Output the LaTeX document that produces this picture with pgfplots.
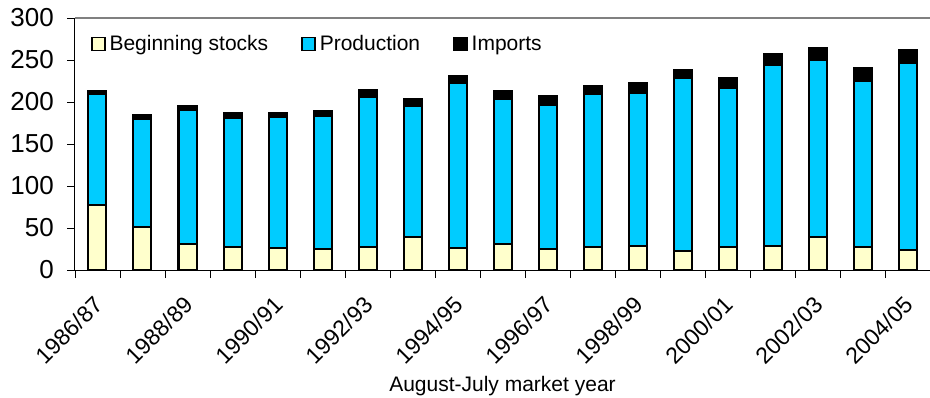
\documentclass[border=0pt]{standalone}
\usepackage{pgfplots}
\pgfplotsset{compat=1.18}
\usepackage{pgfplotstable}
\usepackage{fontspec}
\setmainfont{Liberation Sans}
\definecolor{stockc}{HTML}{FFFFCC}
\definecolor{prodc}{HTML}{00CCFF}
\pgfplotstableread{
idx stocks prod imp
0 77 132 4
1 51 129 4
2 31 159 5
3 27 154 5.5
4 26 156 5
5 25 158 6.5
6 27 179 8
7 39 156 8
8 26 197 8
9 31 173 9
10 25 171 11.5
11 27 182 10
12 28 183 11.5
13 23 205 10
14 27 190 12
15 29 215 13.5
16 39 210.5 15
17 27 198 15.5
18 24 222.5 15
}\datatable
\begin{document}
\begin{tikzpicture}
\begin{axis}[
  name=ax,
  scale only axis,
  width=855bp, height=252bp,
  xmin=-0.5, xmax=18.5,
  ymin=0, ymax=300,
  ytick={0,50,...,300},
  xtick={-0.5,0.5,...,18.5},
  xticklabels={},
  extra x ticks={0,2,...,18},
  extra x tick labels={1986/87,1988/89,1990/91,1992/93,1994/95,1996/97,1998/99,2000/01,2002/03,2004/05},
  extra x tick style={major tick length=0pt, tick label style={xshift=-5bp, yshift=-12bp, rotate=45, anchor=north east, font=\fontsize{23bp}{27bp}\selectfont, inner sep=9bp}},
  axis x line*=bottom,
  axis y line*=left,
  axis line style={-, black, line width=1bp},
  tick align=outside,
  major tick length=8bp,
  tick style={black, line width=0.8bp},
  yticklabel style={font=\fontsize{26bp}{30bp}\selectfont, inner sep=2bp, xshift=-11bp},
  /pgf/number format/assume math mode=true,
  xlabel={August-July market year},
  xlabel style={font=\fontsize{21bp}{25bp}\selectfont, at={(axis description cs:0.5,0)}, anchor=base, yshift=-121bp},
  ybar stacked,
  bar width=18bp,
  legend columns=3,
  legend style={draw=none, fill=none, at={(0.015,0.897)}, anchor=west,
    font=\fontsize{21bp}{25bp}\selectfont,
    /tikz/every even column/.append style={column sep=29bp},
    nodes={inner sep=4bp}},
  legend image code/.code={\draw[#1, line width=1.5bp] (0bp,-6.5bp) rectangle (13bp,6.5bp);},
]
\addplot[fill=stockc, draw=black, line width=2bp] table[x=idx, y=stocks] {\datatable};
\addplot[fill=prodc, draw=black, line width=2bp] table[x=idx, y=prod] {\datatable};
\addplot[fill=black, draw=black, line width=2bp] table[x=idx, y=imp] {\datatable};
\legend{Beginning stocks, Production, Imports}
\end{axis}
\draw[gray, line width=1.2bp] (ax.north west) -- (ax.north east);
\pgfresetboundingbox
\path[use as bounding box] ([xshift=-75bp,yshift=-128bp]ax.south west) rectangle ([yshift=18bp]ax.north east);
\end{tikzpicture}
\end{document}
